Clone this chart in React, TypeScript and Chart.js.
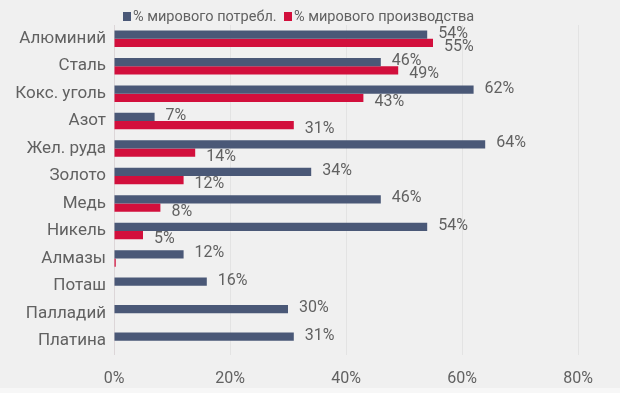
import React, { useEffect, useRef } from "react";
import { Chart, registerables } from "chart.js";

Chart.register(...registerables);

const categories = [
  "Алюминий",
  "Сталь",
  "Кокс. уголь",
  "Азот",
  "Жел. руда",
  "Золото",
  "Медь",
  "Никель",
  "Алмазы",
  "Поташ",
  "Палладий",
  "Платина",
];
const consumption = [54, 46, 62, 7, 64, 34, 46, 54, 12, 16, 30, 31];
const production = [55, 49, 43, 31, 14, 12, 8, 5, 0.3, 0, 0, 0];
const seriesNames = ["% мирового потребл.", "% мирового производства"];
const xTicks = [0, 20, 40, 60, 80];

const BLUE = "#4a5877";
const RED = "#d20f3c";
const TEXT = "#616161";
const FONT = "Roboto";

const labelPlugin = {
  id: "customLabels",
  beforeDraw(chart: any) {
    const ctx = chart.ctx;
    ctx.save();
    ctx.fillStyle = "#f0f0f0";
    ctx.fillRect(0, 0, chart.width, chart.height);
    ctx.fillStyle = "#f7f7f7";
    ctx.fillRect(0, 388, chart.width, chart.height - 388);
    ctx.restore();
  },
  afterDatasetsDraw(chart: any) {
    const ctx = chart.ctx;
    ctx.save();
    ctx.font = `16px ${FONT}`;
    ctx.fillStyle = TEXT;
    ctx.textAlign = "left";
    ctx.textBaseline = "middle";
    chart.data.datasets.forEach((ds: any, di: number) => {
      const meta = chart.getDatasetMeta(di);
      meta.data.forEach((el: any, i: number) => {
        const v = ds.data[i];
        if (v == null || v < 1) return;
        const dy = di === 0 ? -1 : 4;
        ctx.fillText(`${Math.round(v)}%`, el.x + 11, el.y + dy);
      });
    });
    // legend
    ctx.font = `14.5px ${FONT}`;
    const items = [
      { x: 123, color: BLUE, text: seriesNames[0] },
      { x: 284, color: RED, text: seriesNames[1] },
    ];
    items.forEach((it) => {
      ctx.fillStyle = it.color;
      ctx.fillRect(it.x, 12, 8, 9);
      ctx.fillStyle = TEXT;
      ctx.fillText(it.text, it.x + 10, 17);
    });
    ctx.restore();
  },
};

export default function App() {
  const ref = useRef<HTMLCanvasElement>(null);
  useEffect(() => {
    document.body.style.margin = "0";
    const chart = new Chart(ref.current!, {
      type: "bar",
      data: {
        labels: categories,
        datasets: [
          {
            label: seriesNames[0],
            data: consumption,
            backgroundColor: BLUE,
            barPercentage: 1,
            categoryPercentage: 0.6,
          },
          {
            label: seriesNames[1],
            data: production,
            backgroundColor: RED,
            barPercentage: 1,
            categoryPercentage: 0.6,
          },
        ],
      },
      options: {
        indexAxis: "y",
        responsive: false,
        animation: false,
        devicePixelRatio: 1,
        layout: { padding: { top: 25, right: 42, left: 0, bottom: 0 } },
        plugins: {
          legend: { display: false },
          tooltip: { enabled: false },
        },
        scales: {
          x: {
            min: 0,
            max: 80,
            afterBuildTicks: (scale: any) => {
              scale.ticks = xTicks.map((v) => ({ value: v }));
            },
            afterFit: (scale: any) => {
              scale.height = 38.5;
            },
            grid: { color: "rgba(0,0,0,0.05)", drawTicks: false },
            border: { display: false },
            ticks: {
              padding: 15,
              color: TEXT,
              font: { family: FONT, size: 16 },
              callback: (v: any) => `${v}%`,
            },
          },
          y: {
            afterFit: (scale: any) => {
              scale.width = 114;
            },
            grid: { display: false, drawTicks: false },
            border: { display: true, color: "#dcd6d8" },
            ticks: {
              padding: 8,
              color: TEXT,
              font: { family: FONT, size: 17 },
            },
          },
        },
      },
      plugins: [labelPlugin],
    });
    return () => chart.destroy();
  }, []);
  return (
    <div style={{ position: "fixed", left: 0, top: 0, width: 620, height: 393 }}>
      <canvas ref={ref} width={620} height={393} />
    </div>
  );
}
